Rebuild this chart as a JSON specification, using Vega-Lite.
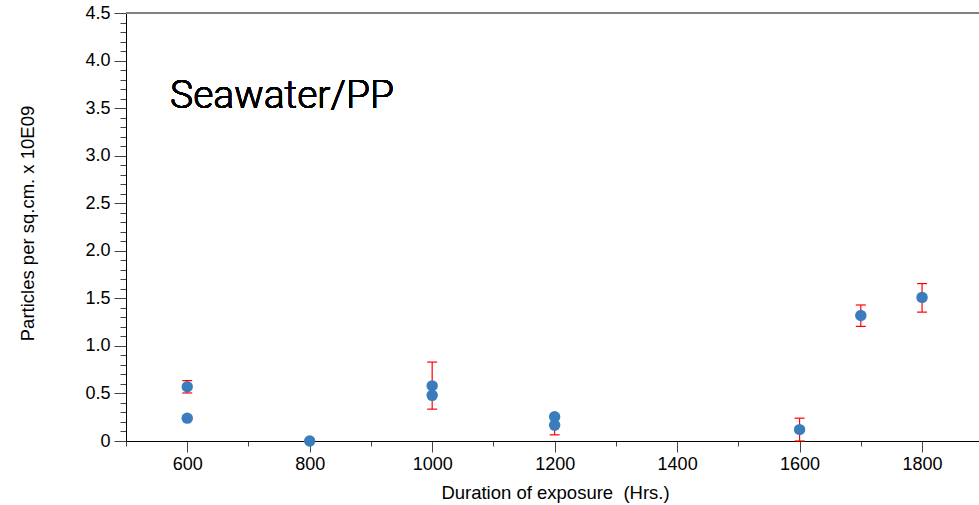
{
  "$schema": "https://vega.github.io/schema/vega-lite/v6.json",
  "width": 853,
  "height": 428,
  "autosize": "none",
  "padding": {"left": 126, "top": 13, "right": 0, "bottom": 64},
  "background": "white",
  "config": {
    "view": {"stroke": null},
    "axis": {
      "labelFont": "Liberation Sans",
      "titleFont": "Liberation Sans",
      "labelFontSize": 18,
      "titleFontSize": 18.5,
      "labelColor": "black",
      "titleColor": "black",
      "titleFontWeight": "normal",
      "grid": false,
      "domainColor": "black",
      "tickColor": "#444444"
    }
  },
  "data": {
    "values": [
      {"x": 600, "y": 0.57, "lo": 0.505, "hi": 0.635},
      {"x": 600, "y": 0.24, "lo": 0.22, "hi": 0.26},
      {"x": 800, "y": 0.0, "lo": null, "hi": null},
      {"x": 1000, "y": 0.58, "lo": 0.335, "hi": 0.83},
      {"x": 1000, "y": 0.48, "lo": null, "hi": null},
      {"x": 1200, "y": 0.255, "lo": null, "hi": null},
      {"x": 1200, "y": 0.165, "lo": 0.065, "hi": 0.265},
      {"x": 1600, "y": 0.12, "lo": 0.0, "hi": 0.24},
      {"x": 1700, "y": 1.32, "lo": 1.205, "hi": 1.43},
      {"x": 1800, "y": 1.51, "lo": 1.355, "hi": 1.655}
    ]
  },
  "layer": [
    {
      "mark": {"type": "rule", "color": "#808080", "strokeWidth": 1},
      "encoding": {
        "y": {"datum": 4.5, "type": "quantitative", "scale": {"domain": [0, 4.5], "nice": false, "zero": true}, "axis": null}
      }
    },
    {
      "mark": {"type": "point", "opacity": 0},
      "encoding": {
        "x": {"field": "x", "type": "quantitative", "scale": {"domain": [500, 1893], "nice": false, "zero": false},
          "axis": {"orient": "bottom", "values": [500, 700, 900, 1100, 1300, 1500, 1700], "tickSize": 5, "labels": false, "domain": false, "title": null}},
        "y": {"field": "y", "type": "quantitative", "scale": {"domain": [0, 4.5], "nice": false, "zero": true},
          "axis": {"orient": "left", "values": [0.1, 0.2, 0.3, 0.4, 0.6, 0.7, 0.8, 0.9, 1.1, 1.2, 1.3, 1.4, 1.6, 1.7, 1.8, 1.9, 2.1, 2.2, 2.3, 2.4, 2.6, 2.7, 2.8, 2.9, 3.1, 3.2, 3.3, 3.4, 3.6, 3.7, 3.8, 3.9, 4.1, 4.2, 4.3, 4.4], "tickSize": 6, "labels": false, "domain": false, "title": null}}
      }
    },
    {
      "transform": [{"filter": "isValid(datum.lo)"}],
      "layer": [
        {
          "mark": {"type": "rule", "color": "#ff0000", "strokeWidth": 1.2},
          "encoding": {
            "x": {"field": "x", "type": "quantitative", "axis": null},
            "y": {"field": "lo", "type": "quantitative", "axis": null},
            "y2": {"field": "hi"}
          }
        },
        {
          "mark": {"type": "tick", "color": "#ff0000", "size": 10, "thickness": 1.2, "orient": "horizontal", "opacity": 1},
          "encoding": {
            "x": {"field": "x", "type": "quantitative", "axis": null},
            "y": {"field": "lo", "type": "quantitative", "axis": null}
          }
        },
        {
          "mark": {"type": "tick", "color": "#ff0000", "size": 10, "thickness": 1.2, "orient": "horizontal", "opacity": 1},
          "encoding": {
            "x": {"field": "x", "type": "quantitative", "axis": null},
            "y": {"field": "hi", "type": "quantitative", "axis": null}
          }
        }
      ]
    },
    {
      "mark": {"type": "circle", "size": 130, "color": "#3a7cbc", "opacity": 1},
      "encoding": {
        "x": {"field": "x", "type": "quantitative",
          "axis": {"orient": "bottom", "values": [600, 800, 1000, 1200, 1400, 1600, 1800], "format": "d", "tickSize": 11, "labelPadding": 3, "domain": true,
            "title": "Duration of exposure \u00a0(Hrs.)", "titleX": 429, "titleY": 57, "titleBaseline": "alphabetic", "titleAnchor": null, "titleAlign": "center"}},
        "y": {"field": "y", "type": "quantitative",
          "axis": {"orient": "left", "values": [0, 0.5, 1, 1.5, 2, 2.5, 3, 3.5, 4, 4.5], "tickSize": 12, "labelPadding": 4, "domain": true,
            "labelExpr": "datum.value == 0 ? '0' : format(datum.value, '.1f')",
            "title": "Particles per sq.cm. x 10E09", "titleX": -99, "titleY": 210, "titleAngle": 270, "titleBaseline": "middle", "titleAlign": "center", "titleAnchor": null}}
      }
    },
    {
      "mark": {"type": "text", "text": "Seawater/PP", "font": "Roboto", "fontSize": 39, "fontWeight": 300, "align": "left", "baseline": "alphabetic", "color": "black"},
      "encoding": {
        "x": {"datum": 572, "type": "quantitative", "axis": null},
        "y": {"datum": 3.5, "type": "quantitative", "axis": null}
      }
    }
  ],
  "resolve": {"axis": {"x": "independent", "y": "independent"}}
}
